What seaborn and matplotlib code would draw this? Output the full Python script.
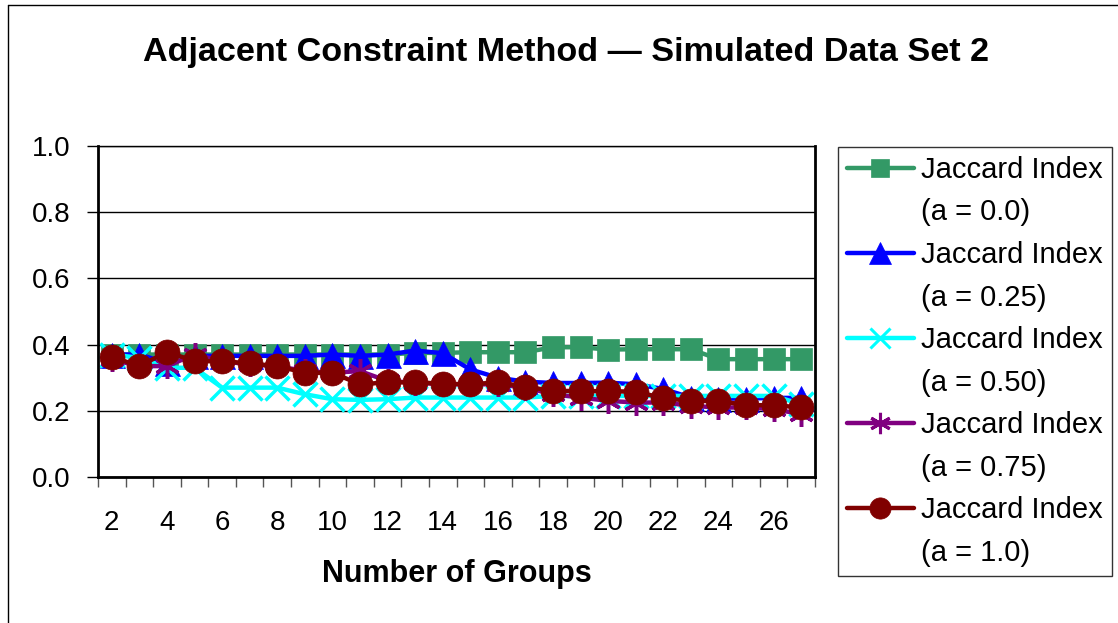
import numpy as np
import pandas as pd
import matplotlib
matplotlib.use('Agg')
import matplotlib.pyplot as plt
from matplotlib.lines import Line2D
import seaborn as sns

# data
groups = list(range(2, 28))
jac_00 = [0.37, 0.37, 0.37, 0.37, 0.37, 0.37, 0.37, 0.37, 0.37, 0.37, 0.37,
          0.375, 0.375, 0.377, 0.377, 0.377, 0.392, 0.392, 0.385, 0.386, 0.386,
          0.386, 0.356, 0.356, 0.356, 0.356]
jac_025 = [0.37, 0.37, 0.345, 0.366, 0.366, 0.366, 0.366, 0.366, 0.37, 0.366,
           0.37, 0.382, 0.374, 0.325, 0.30, 0.288, 0.284, 0.284, 0.285, 0.28,
           0.266, 0.24, 0.237, 0.237, 0.239, 0.239]
jac_050 = [0.37, 0.36, 0.33, 0.33, 0.27, 0.27, 0.27, 0.25, 0.235, 0.233, 0.235,
           0.24, 0.24, 0.24, 0.24, 0.24, 0.245, 0.245, 0.245, 0.245, 0.245,
           0.245, 0.245, 0.245, 0.245, 0.22]
jac_075 = [0.355, 0.335, 0.335, 0.37, 0.35, 0.34, 0.335, 0.32, 0.315, 0.32,
           0.29, 0.285, 0.28, 0.28, 0.28, 0.27, 0.25, 0.24, 0.23, 0.225, 0.225,
           0.215, 0.21, 0.21, 0.205, 0.19]
jac_100 = [0.363, 0.335, 0.378, 0.35, 0.35, 0.343, 0.335, 0.315, 0.315, 0.28,
           0.286, 0.286, 0.282, 0.28, 0.286, 0.273, 0.26, 0.26, 0.259, 0.258,
           0.238, 0.23, 0.23, 0.217, 0.217, 0.21]
labels = ['(a = 0.0)', '(a = 0.25)', '(a = 0.50)', '(a = 0.75)', '(a = 1.0)']
xticks = list(range(2, 27, 2))
yticks = [0.0, 0.2, 0.4, 0.6, 0.8, 1.0]

sns.set_theme(style='white')
plt.rcParams['font.family'] = ['Liberation Sans', 'DejaVu Sans']
plt.rcParams['text.color'] = 'black'
plt.rcParams['axes.labelcolor'] = 'black'
plt.rcParams['xtick.color'] = 'black'
plt.rcParams['ytick.color'] = 'black'

fig = plt.figure(figsize=(11.18, 6.23), dpi=100)
ax = fig.add_axes([98 / 1118, 1 - 477 / 623, 717 / 1118, 331 / 623])

series = [jac_00, jac_025, jac_050, jac_075, jac_100]
colors = ['#339966', '#0000FF', '#00FFFF', '#800080', '#800000']
markers = ['s', '^', 'x', (6, 2, 0), 'o']
msizes = [16, 18, 17, 18, 18]

handles = []
for vals, c, m, ms in zip(series, colors, markers, msizes):
    df = pd.DataFrame({'x': groups, 'y': vals})
    thin = m in ('x', (6, 2, 0))
    sns.lineplot(data=df, x='x', y='y', ax=ax, color=c, linewidth=3.2,
                 marker=m, markersize=ms, markerfacecolor=c,
                 markeredgecolor=c, markeredgewidth=2.5 if thin else 0.5,
                 legend=False)
    handles.append(Line2D([], [], color=c, linewidth=3.2, marker=m,
                          markersize=ms * 0.85, markerfacecolor=c,
                          markeredgecolor=c,
                          markeredgewidth=2.2 if thin else 0.5))

ax.set_xlim(1.5, 27.5)
ax.set_ylim(0, 1)
ax.set_yticks(yticks)
ax.set_yticklabels([f'{v:.1f}' for v in yticks], fontsize=20)
ax.set_xticks(xticks)
ax.set_xticklabels([str(v) for v in xticks], fontsize=20)
ax.set_xticks(np.arange(1.5, 28, 1), minor=True)
ax.tick_params(axis='x', which='major', length=0, pad=24)
ax.tick_params(axis='x', which='minor', length=7, width=1, color='#555555',
               direction='out', bottom=True)
ax.tick_params(axis='y', length=8, width=1, color='black', direction='out',
               left=True, pad=12)
ax.grid(axis='y', color='black', linewidth=1)
ax.set_axisbelow(True)
for s in ['left', 'bottom', 'right']:
    ax.spines[s].set_color('black')
    ax.spines[s].set_linewidth(2)
ax.spines['top'].set_color('black')
ax.spines['top'].set_linewidth(1)

ax.set_xlabel('Number of Groups', fontsize=22, fontweight='bold', labelpad=16)
ax.set_ylabel('')

fig.text(566 / 1118, 1 - 52 / 623,
         'Adjacent Constraint Method \u2014 Simulated Data Set 2',
         ha='center', va='center', fontsize=24.6, fontweight='bold')

# legend with markers aligned to the first line of each label
blank = Line2D([], [], linestyle='none', marker=None)
leg_handles, leg_labels = [], []
for h, lab in zip(handles, labels):
    leg_handles += [h, blank]
    leg_labels += ['Jaccard Index', lab]
leg = fig.legend(leg_handles, leg_labels, loc='upper left',
                 bbox_to_anchor=(838 / 1118, 1 - 147 / 623), fontsize=21,
                 frameon=True, fancybox=False, edgecolor='black',
                 handlelength=2.3, handletextpad=0.25, labelspacing=0.5,
                 borderpad=0.3, borderaxespad=0)
leg.get_frame().set_linewidth(1)

# outer chart border (top and left)
fig.add_artist(Line2D([8 / 1118, 8 / 1118], [0, 1 - 5 / 623],
                      color='black', linewidth=1, transform=fig.transFigure))
fig.add_artist(Line2D([8 / 1118, 1], [1 - 5 / 623, 1 - 5 / 623],
                      color='black', linewidth=1, transform=fig.transFigure))

fig.savefig('out.png', dpi=100)
